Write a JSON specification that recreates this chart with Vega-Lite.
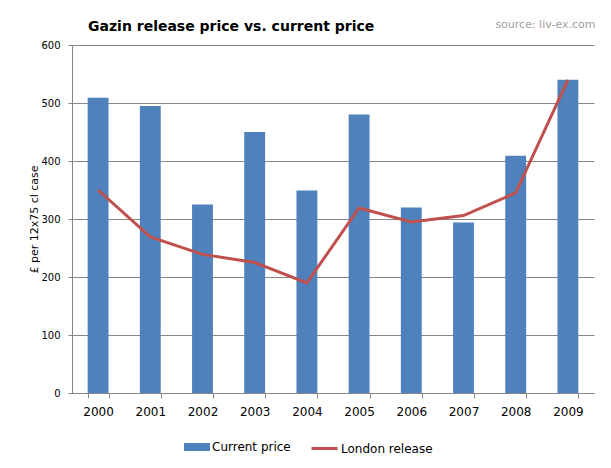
{
  "$schema": "https://vega.github.io/schema/vega-lite/v6.json",
  "width": 522,
  "height": 348,
  "autosize": "none",
  "padding": {"left": 72, "top": 45, "right": 17, "bottom": 75},
  "background": "white",
  "config": {"font": "DejaVu Sans", "view": {"stroke": null}},
  "title": {
    "text": "Gazin release price vs. current price",
    "anchor": "start",
    "frame": "group",
    "dx": 16,
    "offset": -16,
    "fontSize": 14,
    "fontWeight": "bold",
    "color": "black",
    "font": "DejaVu Sans"
  },
  "data": {
    "values": [
      {"year": "2000", "current": 509, "london": 350},
      {"year": "2001", "current": 495, "london": 269},
      {"year": "2002", "current": 325, "london": 239},
      {"year": "2003", "current": 450, "london": 225},
      {"year": "2004", "current": 349, "london": 190},
      {"year": "2005", "current": 480, "london": 319},
      {"year": "2006", "current": 320, "london": 295},
      {"year": "2007", "current": 294, "london": 306},
      {"year": "2008", "current": 409, "london": 345},
      {"year": "2009", "current": 540, "london": 540}
    ]
  },
  "layer": [
    {
      "mark": {"type": "bar", "color": "#4F81BD"},
      "encoding": {
        "x": {
          "field": "year",
          "type": "ordinal",
          "scale": {"paddingInner": 0.6, "paddingOuter": 0.3},
          "axis": {
            "orient": "bottom",
            "labelAngle": 0,
            "labelFontSize": 12,
            "labelColor": "black",
            "tickBand": "extent",
            "tickSize": 5,
            "tickColor": "#868686",
            "domainColor": "#868686",
            "labelPadding": 8,
            "title": null,
            "grid": false
          }
        },
        "y": {
          "field": "current",
          "type": "quantitative",
          "scale": {"domain": [0, 600]},
          "axis": {
            "values": [0, 100, 200, 300, 400, 500, 600],
            "grid": true,
            "gridColor": "#868686",
            "domainColor": "#868686",
            "tickColor": "#868686",
            "tickSize": 4,
            "labelFontSize": 10,
            "labelColor": "black",
            "labelPadding": 8,
            "title": "£ per 12x75 cl case",
            "titleFontSize": 11,
            "titleFontWeight": "normal",
            "titleColor": "black",
            "titleX": -38,
            "titleY": 174,
            "titleAngle": -90,
            "titleAlign": "center",
            "titleBaseline": "middle"
          }
        },
        "fill": {
          "datum": "Current price",
          "type": "nominal",
          "scale": {"range": ["#4F81BD"]},
          "legend": {
            "orient": "none",
            "legendX": 112,
            "legendY": 389,
            "title": null,
            "symbolType": "M-1,-0.3077L1,-0.3077L1,0.3077L-1,0.3077Z",
            "symbolSize": 676,
            "symbolStrokeWidth": 0,
            "labelFontSize": 12,
            "labelColor": "black",
            "labelOffset": 2,
            "padding": 0
          }
        }
      }
    },
    {
      "mark": {"type": "line", "color": "#C0504D", "strokeWidth": 3},
      "encoding": {
        "x": {
          "field": "year",
          "type": "ordinal",
          "axis": {
            "orient": "top",
            "labels": false,
            "ticks": false,
            "domain": false,
            "grid": false,
            "title": "source: liv-ex.com",
            "titleX": 523,
            "titleY": -18,
            "titleAlign": "right",
            "titleBaseline": "alphabetic",
            "titleFontSize": 11,
            "titleFontWeight": "normal",
            "titleColor": "#A0A0A0"
          }
        },
        "y": {
          "field": "london",
          "type": "quantitative",
          "axis": {
            "values": [0, 100, 200, 300, 400, 500, 600],
            "grid": true,
            "gridColor": "#868686",
            "domainColor": "#868686",
            "tickColor": "#868686",
            "tickSize": 4,
            "labelFontSize": 10,
            "labelColor": "black",
            "labelPadding": 8,
            "title": "£ per 12x75 cl case",
            "titleFontSize": 11,
            "titleFontWeight": "normal",
            "titleColor": "black",
            "titleX": -38,
            "titleY": 174,
            "titleAngle": -90,
            "titleAlign": "center",
            "titleBaseline": "middle"
          }
        },
        "stroke": {
          "datum": "London release",
          "type": "nominal",
          "scale": {"range": ["#C0504D"]},
          "legend": {
            "orient": "none",
            "legendX": 238,
            "legendY": 389,
            "title": null,
            "symbolType": "stroke",
            "symbolSize": 676,
            "symbolStrokeWidth": 3,
            "labelFontSize": 12,
            "labelColor": "black",
            "labelOffset": 2,
            "padding": 0
          }
        }
      }
    }
  ],
  "resolve": {"axis": {"x": "independent"}}
}
